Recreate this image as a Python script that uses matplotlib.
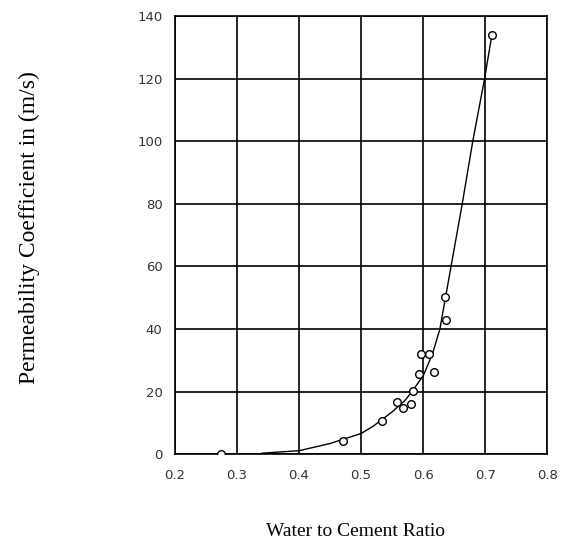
import matplotlib
matplotlib.use('Agg')
import matplotlib.pyplot as plt
import numpy as np

# DATA ##########################################

# measured points (water/cement ratio, permeability)
wc_ratio = [0.274, 0.471, 0.534, 0.558, 0.568, 0.581, 0.583, 0.594,
            0.596, 0.609, 0.617, 0.635, 0.637, 0.711]
permeability = [0.0, 4.1, 10.5, 16.7, 14.9, 16.0, 20.2, 25.5,
                32.0, 31.9, 26.3, 50.2, 42.9, 134.0]

# fitted curve
curve_x = [0.34, 0.40, 0.45, 0.50, 0.52, 0.55, 0.57, 0.582, 0.60,
           0.615, 0.627, 0.645, 0.663, 0.680, 0.699, 0.710]
curve_y = [0.3, 1.1, 3.4, 6.6, 9.0, 13.5, 17.0, 20.0, 25.0,
           32.0, 40.0, 60.0, 80.0, 100.0, 120.0, 133.0]

x_ticks = [0.2, 0.3, 0.4, 0.5, 0.6, 0.7, 0.8]
y_ticks = [0, 20, 40, 60, 80, 100, 120, 140]

# FIGURE ########################################

fig = plt.figure(figsize=(5.7, 5.4), dpi=100)
ax = fig.add_axes([0.307, 0.159, 0.653, 0.811])

ax.set_xlim(0.2, 0.8)
ax.set_ylim(0, 140)
ax.set_xticks(x_ticks)
ax.set_yticks(y_ticks)
ax.set_xticklabels([f'{t:.1f}' for t in x_ticks])
ax.set_yticklabels([str(t) for t in y_ticks])
ax.tick_params(axis='x', length=0, pad=11, labelsize=9.5, labelcolor='#333333')
ax.tick_params(axis='y', length=0, pad=9, labelsize=9.5, labelcolor='#333333')

ax.grid(True, color='black', linewidth=1.2)
ax.set_axisbelow(True)
for s in ax.spines.values():
    s.set_color('black')
    s.set_linewidth(1.2)

ax.plot(curve_x, curve_y, color='black', linewidth=1.0, zorder=3)
ax.plot(wc_ratio, permeability, linestyle='none', marker='o',
        markersize=5.5, markerfacecolor='white', markeredgecolor='black',
        markeredgewidth=1.0, zorder=4)

ax.set_xlabel('Water to Cement Ratio', family='Liberation Serif', fontsize=14)
ax.set_ylabel('Permeability Coefficient in (m/s)', family='Liberation Serif', fontsize=17)
ax.xaxis.set_label_coords(0.484, -0.158)
ax.yaxis.set_label_coords(-0.363, 0.517)

fig.savefig('out.png', dpi=100)
